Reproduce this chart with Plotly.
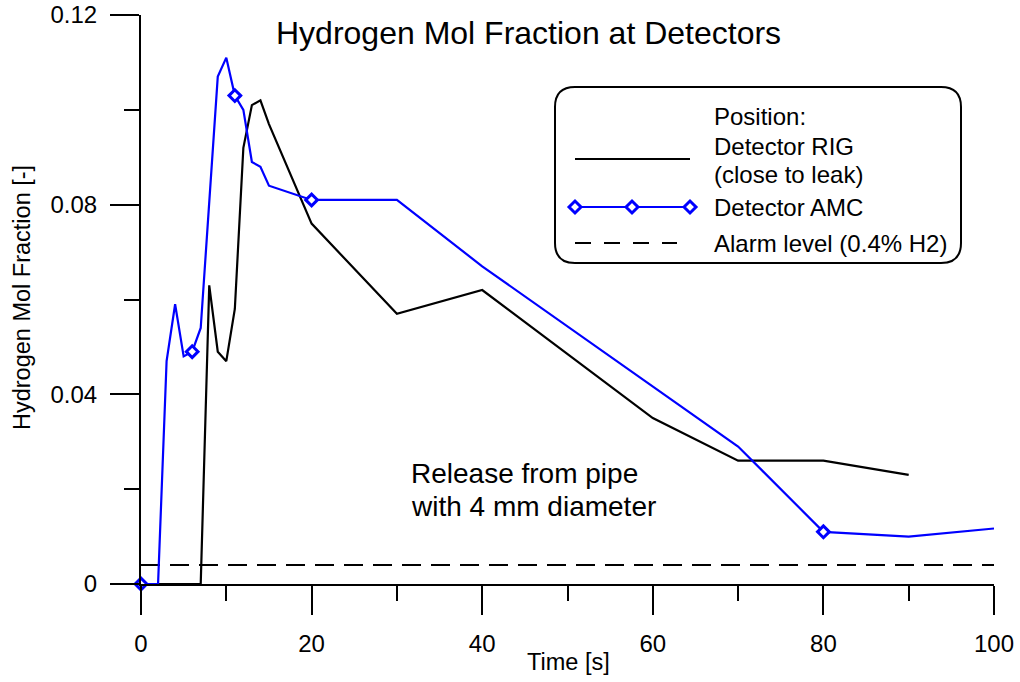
import plotly.graph_objects as go

# ---- data ----
rig_time = [0, 7, 8, 9, 10, 11, 12, 13, 14, 15, 20, 30, 40, 60, 70, 80, 90]
rig_h2 = [0, 0, 0.063, 0.049, 0.047, 0.058, 0.092, 0.101, 0.102, 0.097,
          0.076, 0.057, 0.062, 0.035, 0.026, 0.026, 0.023]

amc_time = [0, 2, 3, 4, 5, 6, 7, 9, 10, 11, 12, 13, 14, 15, 20, 30, 40, 70, 80, 90, 100]
amc_h2 = [0, 0, 0.047, 0.059, 0.048, 0.049, 0.054, 0.107, 0.111, 0.103, 0.100,
          0.089, 0.088, 0.084, 0.081, 0.081, 0.067, 0.029, 0.011, 0.010, 0.0117]
amc_marked_times = [0, 6, 11, 20, 80]

alarm_time = [0, 100]
alarm_h2 = [0.004, 0.004]

x_ticks = [0, 20, 40, 60, 80, 100]
y_ticks = [0, 0.04, 0.08, 0.12]
y_ticktext = ["0", "0.04", "0.08", "0.12"]

FONT = "Liberation Sans, Arial, Helvetica, sans-serif"
BLUE = "#0000ff"

fig = go.Figure()

fig.add_trace(go.Scatter(x=alarm_time, y=alarm_h2, mode="lines",
                         line=dict(color="black", width=2, dash="19px,10px"),
                         showlegend=False, hoverinfo="skip"))
fig.add_trace(go.Scatter(x=rig_time, y=rig_h2, mode="lines",
                         line=dict(color="black", width=2.2),
                         showlegend=False))
fig.add_trace(go.Scatter(x=amc_time, y=amc_h2, mode="lines",
                         line=dict(color=BLUE, width=2.2),
                         showlegend=False))
mk_x = [t for t in amc_time if t in amc_marked_times]
mk_y = [v for t, v in zip(amc_time, amc_h2) if t in amc_marked_times]
fig.add_trace(go.Scatter(x=mk_x, y=mk_y, mode="markers",
                         marker=dict(symbol="diamond", size=9, color="white", opacity=1,
                                     line=dict(width=3, color=BLUE)),
                         cliponaxis=False, showlegend=False))

# ---- helpers: reference pixel -> paper coords (plot area 141..994 x 15..584) ----
W, H = 853.0, 569.0
def px(xp):
    return (xp - 141) / W
def py(yp):
    return (584 - yp) / H

# ---- manual legend (rounded box) ----
x0, x1, y0, y1 = px(555), px(961), py(263), py(87)
rx, ry = 20 / W, 20 / H
path = (f"M {x0+rx},{y0} L {x1-rx},{y0} Q {x1},{y0} {x1},{y0+ry} "
        f"L {x1},{y1-ry} Q {x1},{y1} {x1-rx},{y1} L {x0+rx},{y1} "
        f"Q {x0},{y1} {x0},{y1-ry} L {x0},{y0+ry} Q {x0},{y0} {x0+rx},{y0} Z")
shapes = [dict(type="path", path=path, xref="paper", yref="paper",
               line=dict(color="black", width=2), fillcolor="white", layer="above")]
shapes.append(dict(type="line", xref="paper", yref="paper",
                   x0=px(575), x1=px(690), y0=py(159), y1=py(159),
                   line=dict(color="black", width=2.2)))
shapes.append(dict(type="line", xref="paper", yref="paper",
                   x0=px(575), x1=px(690), y0=py(207), y1=py(207),
                   line=dict(color=BLUE, width=2.2)))
for mx in (575, 632, 690):
    d = 6
    shapes.append(dict(type="path", xref="paper", yref="paper",
                       path=f"M {px(mx-d)},{py(207)} L {px(mx)},{py(207-d)} "
                            f"L {px(mx+d)},{py(207)} L {px(mx)},{py(207+d)} Z",
                       line=dict(color=BLUE, width=3), fillcolor="white"))
shapes.append(dict(type="line", xref="paper", yref="paper",
                   x0=px(575), x1=px(677), y0=py(243), y1=py(243),
                   line=dict(color="black", width=2, dash="16px,13px")))

annotations = []
def txt(text, xp, yp, size, xanchor="left", angle=0):
    annotations.append(dict(text=text, x=px(xp), y=py(yp), xref="paper", yref="paper",
                            xanchor=xanchor, yanchor="middle", showarrow=False,
                            align="left", textangle=angle,
                            font=dict(family=FONT, size=size, color="black")))

txt("Position:", 712, 116, 24)
txt("Detector RIG", 712, 146, 24)
txt("(close to leak)", 712, 175, 24)
txt("Detector AMC", 712, 207, 24)
txt("Alarm level (0.4% H2)", 712, 243, 24)
txt("Hydrogen Mol Fraction at Detectors", 528, 33, 32, xanchor="center")
txt("Release from pipe", 409, 473, 28)
txt("with 4 mm diameter", 409, 506, 28)
txt("Time [s]", 568, 662, 23.5, xanchor="center")
txt("Hydrogen Mol Fraction [-]", 22, 298, 23.5, xanchor="center", angle=-90)

axis_common = dict(showline=True, linecolor="black", linewidth=2, ticks="outside",
                   ticklen=29, tickwidth=2, tickcolor="black", showgrid=False,
                   zeroline=False, automargin=False, ticklabeloverflow="allow",
                   tickfont=dict(family=FONT, size=24, color="black"))

fig.update_layout(
    width=1020, height=682, autosize=False,
    margin=dict(l=141, r=26, t=15, b=98, pad=0),
    plot_bgcolor="white", paper_bgcolor="white",
    font=dict(family=FONT, color="black"),
    hovermode=False,
    xaxis=dict(range=[0, 100], tickvals=x_ticks, ticklabelstandoff=8,
               minor=dict(ticks="outside", ticklen=15, tickwidth=2, tickcolor="black", dtick=10),
               **axis_common),
    yaxis=dict(range=[0, 0.12], tickvals=y_ticks, ticktext=y_ticktext, ticklabelstandoff=8,
               minor=dict(ticks="outside", ticklen=15, tickwidth=2, tickcolor="black", dtick=0.02),
               **axis_common),
    shapes=shapes, annotations=annotations,
)

# remove the default 8px page margin so the 1020x682 figure fills the window exactly
fig.write_html("out.html", config={"displayModeBar": False},
               post_script="document.body.style.margin='0';document.body.style.overflow='hidden';")
